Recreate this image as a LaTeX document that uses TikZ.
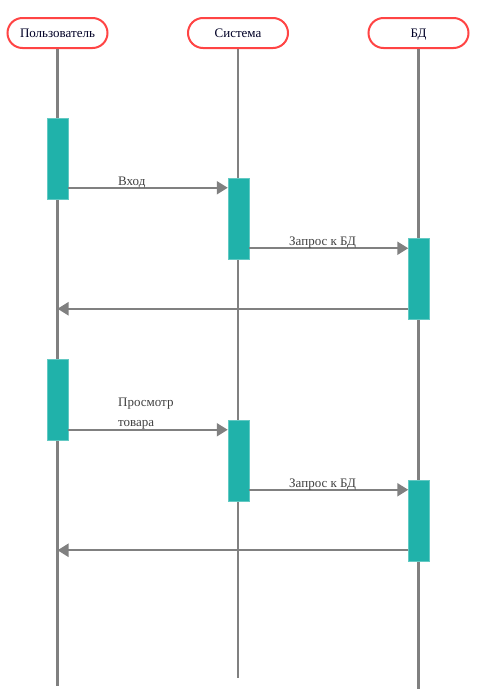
\documentclass[tikz,border=0pt]{standalone}
\usepackage{fontspec}
\setmainfont{Liberation Serif}
\usetikzlibrary{arrows.meta,calc}
\definecolor{actcol}{HTML}{20B2AA}
\definecolor{hdrcol}{HTML}{FF4444}
\definecolor{lncol}{HTML}{808080}
\begin{document}
\begin{tikzpicture}[x=1pt,y=-1pt,
  header/.style={draw=hdrcol,line width=2pt,rounded corners=15pt,fill=white,
    minimum width=100pt,minimum height=30pt,inner sep=0pt,text height=10pt,text depth=2pt,
    font=\fontsize{13}{15}\selectfont,text=black!85!blue},
  act/.style={fill=actcol,draw=actcol!70!white,line width=0.5pt,minimum width=21pt,minimum height=81pt,inner sep=0pt},
  life/.style={draw=lncol,line width=2.2pt},
  msg/.style={draw=lncol,line width=2.2pt,-{Triangle[length=11pt,width=13pt,fill=lncol]}},
  lbl/.style={font=\fontsize{13}{15}\selectfont,text=black!75,anchor=base west,inner sep=0pt}]
\useasboundingbox (0,0) rectangle (481,699);
% headers
\node[header] (hu) at (57.5,33) {Пользователь};
\node[header] (hs) at (238,33) {Система};
\node[header] (hd) at (418.5,33) {БД};
% lifeline ends
\coordinate (eu) at (57,686);
\coordinate (es) at (238,678);
\coordinate (ed) at (418,689);
\draw[life] (hu.south) -- (hu.south |- eu);
\draw[life] (hs.south) -- (hs.south |- es);
\draw[life] (hd.south) -- (hd.south |- ed);
% activations
\node[act] (u1) at (57.5,158.5) {};
\node[act] (s1) at (238.5,218.5) {};
\node[act] (d1) at (419,279) {};
\node[act] (u2) at (57.5,399.5) {};
\node[act] (s2) at (238.5,460.5) {};
\node[act] (d2) at (419,520.5) {};
% messages
\coordinate (m1) at ($(s1.north west)+(0,10)$);
\draw[msg] (u1.east |- m1) -- (m1);
\node[lbl] (l1) at (118,185) {Вход};
\coordinate (m2) at ($(d1.north west)+(0,10)$);
\draw[msg] (s1.east |- m2) -- (m2);
\node[lbl] (l2) at (289,245) {Запрос к БД};
\coordinate (m3) at ($(d1.south west)+(0,-11)$);
\draw[msg] (m3) -- (hu.south |- m3);
\coordinate (m4) at ($(s2.north west)+(0,10)$);
\draw[msg] (u2.east |- m4) -- (m4);
\node[lbl] (l4a) at (118,406) {Просмотр};
\node[lbl] (l4b) at (118,426) {товара};
\coordinate (m5) at ($(d2.north west)+(0,10)$);
\draw[msg] (s2.east |- m5) -- (m5);
\node[lbl] (l5) at (289,487) {Запрос к БД};
\coordinate (m6) at ($(d2.south west)+(0,-11)$);
\draw[msg] (m6) -- (hu.south |- m6);
\end{tikzpicture}
\end{document}
